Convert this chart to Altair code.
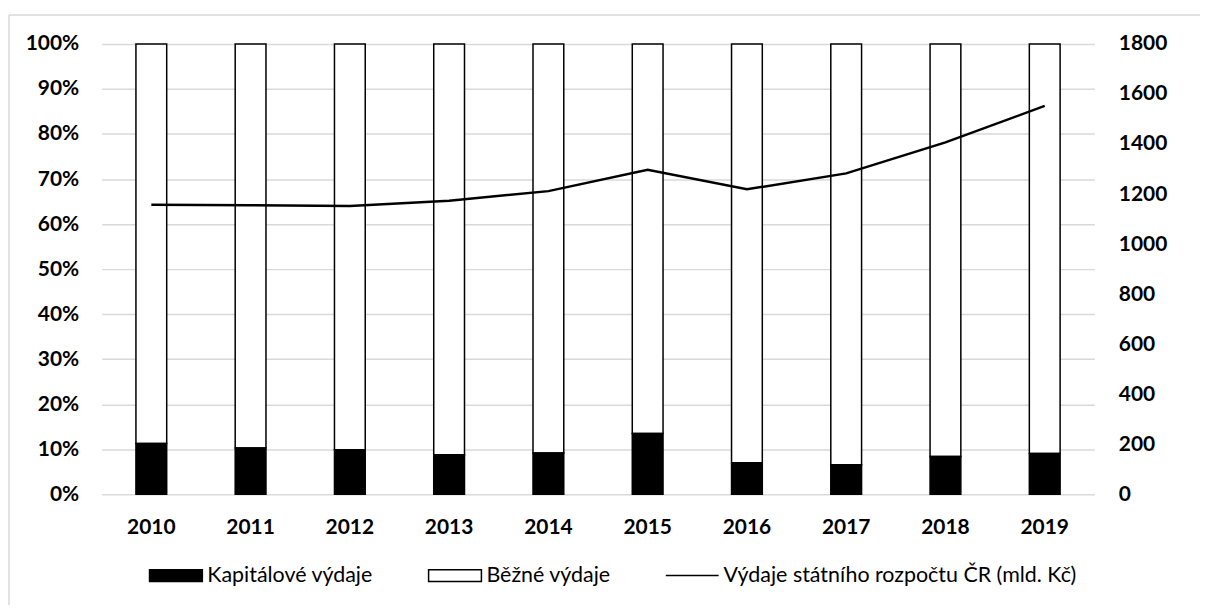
import altair as alt
import pandas as pd

years = ["2010", "2011", "2012", "2013", "2014", "2015", "2016", "2017", "2018", "2019"]
capital_share_pct = [11.3, 10.3, 9.9, 8.8, 9.2, 13.5, 7.0, 6.6, 8.4, 9.1]
budget_bn_czk = [1156.8, 1155.5, 1152.4, 1173.1, 1211.6, 1297.3, 1218.9, 1282.6, 1406.4, 1552.2]
series_names = ["Kapitálové výdaje", "Běžné výdaje", "Výdaje státního rozpočtu ČR (mld. Kč)"]

df = pd.DataFrame({
    "year": years,
    "base": [0.0] * len(years),
    "cap": [v / 100 for v in capital_share_pct],
    "total": [v / 100 + (100 - v) / 100 for v in capital_share_pct],
    "budget": budget_bn_czk,
})

FONT = "Lato"
GRID = "#d9d9d9"

x_enc = alt.X(
    "year:N",
    scale=alt.Scale(paddingInner=0.69, paddingOuter=0.345),
    axis=alt.Axis(title=None, labelAngle=0, labelFont=FONT, labelFontWeight="bold",
                  labelFontSize=21, labelColor="black", labelPadding=22,
                  domain=False, ticks=False),
)

y_left = alt.Y(
    "cap:Q",
    scale=alt.Scale(domain=[0, 1]),
    axis=alt.Axis(title=None, format=".0%", values=[i / 10 for i in range(11)],
                  labelFont=FONT, labelFontWeight="bold", labelFontSize=21,
                  labelColor="black", labelPadding=23, domain=False, ticks=False,
                  grid=True, gridColor=GRID, gridWidth=1.5),
)

base = alt.Chart(df)

current_bars = base.mark_bar(fill="white", stroke="black", strokeWidth=1.5).encode(
    x=x_enc, y=y_left, y2="total:Q"
)
capital_bars = base.mark_bar(fill="black", stroke="black", strokeWidth=1.5).encode(
    x=x_enc, y=y_left, y2="base:Q"
)
bars = alt.layer(current_bars, capital_bars)

line = base.mark_line(color="black", strokeWidth=2.5).encode(
    x=x_enc,
    y=alt.Y("budget:Q", scale=alt.Scale(domain=[0, 1800]),
            axis=alt.Axis(orient="right", title=None, values=list(range(0, 1801, 200)),
                          format="d", grid=False, domain=False, ticks=False, labelPadding=24,
                          labelFont=FONT, labelFontWeight="bold", labelFontSize=21,
                          labelColor="black")),
)

rect_path = "M-1,-0.22H1V0.22H-1Z"
line_path = "M-1,0H1"
legend_df = pd.DataFrame({"s": series_names})
leg = alt.Legend(title=None, orient="none", direction="horizontal", legendX=47, legendY=506)
legend_layer = alt.Chart(legend_df).transform_filter("false").mark_point(filled=True, opacity=1).encode(
    x=alt.value(0), y=alt.value(0),
    fill=alt.Fill("s:N", scale=alt.Scale(domain=series_names, range=["black", "white", "transparent"]), legend=leg),
    stroke=alt.Stroke("s:N", scale=alt.Scale(domain=series_names, range=["black", "black", "black"]), legend=leg),
    shape=alt.Shape("s:N", scale=alt.Scale(domain=series_names, range=[rect_path, rect_path, line_path]), legend=leg),
    strokeWidth=alt.StrokeWidth("s:N", scale=alt.Scale(domain=series_names, range=[1.5, 1.5, 2.5]), legend=leg),
)

frame_data = alt.Data(values=[{}])
frame_top = alt.Chart(frame_data).mark_rule(stroke=GRID, strokeWidth=1.5).encode(
    x=alt.value(-93), x2=alt.value(1300), y=alt.value(-29)
)
frame_left = alt.Chart(frame_data).mark_rule(stroke=GRID, strokeWidth=1.5).encode(
    x=alt.value(-93), y=alt.value(-29), y2=alt.value(800)
)

chart = alt.layer(frame_top, frame_left, bars, line, legend_layer).resolve_scale(y="independent").properties(
    width=996, height=452,
    autosize=alt.AutoSizeParams(type="none"),
    padding={"left": 94, "top": 35, "right": 106, "bottom": 110},
    background="white",
).configure_view(stroke=None).configure_legend(
    labelFont=FONT, labelFontSize=21.5, labelColor="black", labelLimit=0, symbolSize=2809,
    symbolOpacity=1, columnPadding=52, labelOffset=4, padding=0,
)

chart.save("out.html", embed_options={"renderer": "svg", "actions": False})
